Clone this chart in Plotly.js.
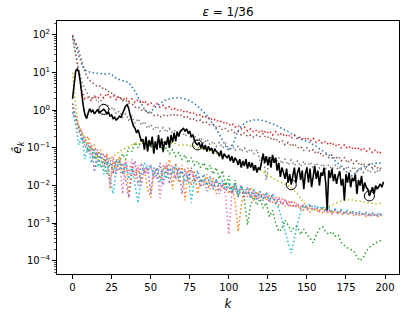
<!DOCTYPE html>
<html>
<head>
<meta charset="utf-8">
<script src="https://cdn.plot.ly/plotly-3.0.1.min.js"></script>
<style>html,body{margin:0;padding:0;background:#fff;}</style>
</head>
<body>
<div id="chart" style="width:405px;height:318px;"></div>
<script>
// ---- data ----
// colored dotted series are sampled at k = 0, 2, 4, ..., 198
const blueVals = [90,55,28,16,11.5,10.5,10,9.8,9.5,9.6, 9.2,9,9.5,8,7,6.5,6.2,5.8,5.4,4.2, 3.2,2.2,1.5,1.05,0.85,0.9,1.1,1.3,1.5,1.7, 1.9,2.0,2.1,2.15,2.15,2.1,2.0,1.85,1.7,1.5, 1.3,1.1,0.9,0.72,0.56,0.42,0.32,0.23,0.16,0.11, 0.085,0.1,0.18,0.28,0.38,0.45,0.5,0.53,0.55,0.56, 0.55,0.53,0.5,0.47,0.44,0.4,0.36,0.33,0.3,0.27, 0.24,0.21,0.19,0.17,0.16,0.15,0.14,0.12,0.11,0.095, 0.085,0.075,0.065,0.055,0.045,0.038,0.032,0.027,0.021,0.017, 0.02,0.024,0.028,0.031,0.034,0.036,0.038,0.039,0.04,0.039];
const orangeVals = [1.2,0.6,0.35,0.25,0.15,0.2,0.09,0.12,0.06,0.09, 0.04,0.07,0.008,0.05,0.025,0.06,0.02,0.05,0.005,0.035, 0.015,0.03,0.012,0.028,0.008,0.0047,0.02,0.03,0.015,0.035, 0.02,0.05,0.008,0.04,0.012,0.035,0.004,0.03,0.01,0.025, 0.006,0.015,0.01,0.02,0.008,0.016,0.006,0.012,0.008,0.012, 0.006,0.01,0.004,0.0006,0.003,0.008,0.005,0.009,0.004,0.007, 0.0045,0.006,0.004,0.0055,0.0035,0.005,0.003,0.0045,0.0028,0.004, 0.0026,0.0035,0.0025,0.003,0.0022,0.0028,0.002,0.0026,0.002,0.0024, 0.0019,0.0023,0.0018,0.0022,0.0018,0.0021,0.0017,0.002,0.0017,0.002, 0.0016,0.0019,0.0016,0.0018,0.0015,0.0018,0.0015,0.0017,0.0015,0.0016];
const greenVals = [1.5,0.7,0.3,0.2,0.12,0.08,0.1,0.05,0.07,0.03, 0.05,0.02,0.04,0.025,0.05,0.04,0.07,0.05,0.1,0.08, 0.14,0.1,0.16,0.11,0.14,0.1,0.13,0.09,0.12,0.08, 0.1,0.07,0.09,0.06,0.075,0.05,0.065,0.04,0.055,0.035, 0.045,0.03,0.04,0.025,0.035,0.02,0.03,0.015,0.025,0.01, 0.018,0.006,0.014,0.005,0.01,0.004,0.0009,0.003,0.005,0.003, 0.0045,0.0025,0.0035,0.0015,0.0022,0.001,0.0006,0.0007,0.0012,0.0009, 0.0006,0.0008,0.0008,0.0005,0.0007,0.0005,0.0004,0.0003,0.0005,0.0007, 0.0008,0.0006,0.0005,0.0006,0.00045,0.0005,0.0003,0.00025,0.00022,0.0002, 0.00018,0.00013,0.0001,0.00012,0.00018,0.00023,0.00026,0.0003,0.00032,0.00036];
const redVals = [100,30,8,3.2,2.0,2.2,1.8,2.4,2.0,2.6, 2.1,2.8,2.2,2.5,1.9,2.3,1.8,2.2,1.7,2.0, 1.6,1.9,1.5,1.8,1.4,1.6,1.3,1.5,1.2,1.35, 1.1,1.25,1.0,1.15,0.95,1.05,0.85,0.95,0.8,0.85, 0.7,0.78,0.62,0.7,0.56,0.62,0.5,0.55,0.45,0.5, 0.4,0.45,0.36,0.4,0.32,0.36,0.28,0.32,0.26,0.3, 0.25,0.3,0.24,0.28,0.22,0.27,0.21,0.25,0.2,0.23, 0.18,0.22,0.17,0.2,0.16,0.19,0.15,0.18,0.14,0.16, 0.13,0.15,0.12,0.14,0.11,0.13,0.1,0.12,0.095,0.11, 0.09,0.105,0.085,0.1,0.08,0.095,0.075,0.09,0.07,0.08];
const purpleVals = [1.5,0.5,0.4,0.15,0.2,0.08,0.12,0.023,0.09,0.05, 0.07,0.035,0.055,0.02,0.045,0.025,0.04,0.015,0.0047,0.02, 0.045,0.01,0.04,0.02,0.035,0.006,0.03,0.015,0.04,0.01, 0.035,0.011,0.03,0.015,0.03,0.006,0.025,0.014,0.03,0.012, 0.018,0.009,0.015,0.007,0.012,0.008,0.014,0.006,0.011,0.007, 0.01,0.006,0.009,0.005,0.008,0.005,0.007,0.0045,0.0065,0.004, 0.006,0.004,0.0055,0.0035,0.005,0.0032,0.0045,0.003,0.004,0.0028, 0.0036,0.0026,0.0032,0.0024,0.003,0.0022,0.0028,0.0021,0.0026,0.002, 0.0025,0.0019,0.0023,0.0018,0.0022,0.0018,0.0021,0.0017,0.002,0.0017, 0.0019,0.0016,0.0019,0.0016,0.0018,0.0015,0.0018,0.0015,0.0017,0.0016];
const brownVals = [95,65,38,20,10,7,5.5,5,4.2,4.5, 3.5,3.6,2.8,2.9,2.2,2.3,1.8,1.9,1.5,1.5, 1.2,1.25,1.0,1.05,0.85,0.9,0.72,0.78,0.65,0.75, 0.68,0.78,0.7,0.8,0.7,0.75,0.62,0.68,0.55,0.6, 0.5,0.55,0.45,0.48,0.4,0.42,0.35,0.38,0.3,0.33, 0.27,0.3,0.25,0.27,0.22,0.25,0.2,0.22,0.19,0.22, 0.2,0.24,0.18,0.2,0.16,0.18,0.14,0.16,0.12,0.14, 0.11,0.13,0.1,0.11,0.085,0.1,0.08,0.09,0.07,0.08, 0.06,0.07,0.055,0.065,0.05,0.06,0.045,0.055,0.04,0.05, 0.038,0.045,0.034,0.04,0.031,0.037,0.029,0.034,0.027,0.03];
const pinkVals = [0.8,0.7,0.25,0.3,0.1,0.15,0.06,0.1,0.04,0.07, 0.03,0.07,0.01,0.06,0.02,0.05,0.006,0.045,0.02,0.05, 0.018,0.035,0.01,0.03,0.02,0.035,0.015,0.03,0.0047,0.025, 0.04,0.02,0.035,0.015,0.03,0.02,0.028,0.012,0.025,0.015, 0.022,0.012,0.02,0.01,0.018,0.009,0.015,0.008,0.013,0.005, 0.0005,0.006,0.011,0.007,0.01,0.006,0.009,0.005,0.008,0.0045, 0.007,0.0045,0.0065,0.004,0.006,0.0035,0.005,0.0032,0.0045,0.003, 0.004,0.0028,0.0035,0.0025,0.0032,0.0024,0.003,0.0022,0.0028,0.0021, 0.0026,0.002,0.0024,0.0019,0.0023,0.0019,0.0022,0.0018,0.0021,0.0018, 0.002,0.0017,0.002,0.0017,0.0019,0.0016,0.0019,0.0016,0.0018,0.0017];
const grayVals = [80,30,12,5.5,3.5,2.5,2.0,2.4,1.6,1.9, 1.3,1.5,1.0,1.2,0.8,0.95,0.65,0.8,0.55,0.7, 0.45,0.6,0.4,0.5,0.33,0.42,0.3,0.38,0.28,0.35, 0.26,0.33,0.25,0.3,0.22,0.28,0.2,0.25,0.18,0.22, 0.15,0.19,0.13,0.17,0.12,0.15,0.11,0.14,0.1,0.13, 0.09,0.12,0.085,0.11,0.08,0.1,0.075,0.095,0.07,0.09, 0.045,0.065,0.014,0.05,0.06,0.04,0.055,0.038,0.05,0.035, 0.048,0.034,0.045,0.032,0.044,0.03,0.042,0.03,0.04,0.029, 0.038,0.028,0.036,0.027,0.035,0.026,0.034,0.025,0.033,0.024, 0.032,0.023,0.03,0.022,0.029,0.022,0.028,0.021,0.027,0.022];
const oliveVals = [10,1.2,0.4,0.25,0.18,0.12,0.09,0.07,0.05,0.045, 0.04,0.045,0.05,0.06,0.07,0.08,0.09,0.1,0.11,0.12, 0.13,0.13,0.13,0.13,0.14,0.14,0.14,0.14,0.14,0.14, 0.13,0.13,0.13,0.13,0.12,0.12,0.12,0.12,0.11,0.11, 0.1,0.1,0.09,0.09,0.08,0.08,0.07,0.07,0.06,0.06, 0.055,0.052,0.05,0.046,0.043,0.04,0.037,0.034,0.031,0.028, 0.026,0.023,0.02,0.018,0.016,0.014,0.013,0.012,0.011,0.01, 0.009,0.0075,0.006,0.0045,0.0035,0.0028,0.0025,0.0023,0.0022,0.0022, 0.0023,0.0025,0.0028,0.003,0.0033,0.0036,0.0039,0.0041,0.0042,0.0042, 0.0041,0.004,0.0039,0.0037,0.0035,0.0034,0.0033,0.0033,0.0033,0.0034];
const cyanVals = [0.9,0.4,0.12,0.2,0.05,0.12,0.04,0.09,0.03,0.07, 0.02,0.05,0.015,0.006,0.03,0.045,0.02,0.04,0.015,0.03, 0.01,0.0034,0.02,0.04,0.025,0.035,0.018,0.03,0.012,0.028, 0.015,0.03,0.02,0.035,0.015,0.025,0.012,0.02,0.0035,0.015, 0.025,0.012,0.02,0.01,0.017,0.008,0.015,0.01,0.014,0.008, 0.012,0.007,0.011,0.006,0.01,0.006,0.009,0.005,0.008,0.005, 0.007,0.0045,0.0065,0.004,0.006,0.0035,0.0025,0.0012,0.0006,0.0003, 0.00016,0.0004,0.001,0.002,0.003,0.0028,0.0032,0.0026,0.003,0.0024, 0.0028,0.0022,0.0026,0.0021,0.0024,0.002,0.0023,0.0019,0.0022,0.0018, 0.0021,0.0018,0.002,0.0017,0.0019,0.0017,0.0018,0.0016,0.0018,0.0017];

// solid black series, k = 0..199
const blackVals = [2.0,6.0,11.0,12.5,10.5,5.5,2.2,1.2,0.75,0.6,
 0.85,1.1,0.9,1.0,0.8,0.95,1.05,0.85,0.9,1.0,
 1.05,0.95,0.8,0.9,0.7,0.75,0.6,0.65,0.55,0.6,
 0.7,0.65,0.8,1.0,1.3,1.4,1.1,0.7,0.5,0.38,
 0.33,0.25,0.3,0.2,0.15,0.17,0.09,0.2,0.08,0.16,
 0.11,0.2,0.07,0.15,0.09,0.22,0.1,0.18,0.08,0.15,
 0.12,0.2,0.1,0.22,0.14,0.25,0.15,0.27,0.2,0.28,
 0.3,0.33,0.28,0.32,0.25,0.27,0.2,0.22,0.16,0.13,
 0.12,0.14,0.1,0.13,0.09,0.12,0.08,0.11,0.085,0.1,
 0.07,0.095,0.08,0.075,0.06,0.085,0.05,0.07,0.06,0.055,
 0.065,0.045,0.06,0.04,0.055,0.047,0.035,0.05,0.03,0.045,
 0.033,0.05,0.028,0.042,0.03,0.04,0.025,0.035,0.022,0.03,
 0.026,0.05,0.07,0.04,0.06,0.035,0.058,0.03,0.065,0.04,
 0.055,0.025,0.04,0.017,0.03,0.022,0.015,0.028,0.012,0.02,
 0.0105,0.018,0.03,0.012,0.022,0.03,0.014,0.025,0.008,0.02,
 0.03,0.012,0.028,0.009,0.02,0.033,0.015,0.025,0.01,0.022,
 0.018,0.03,0.012,0.0022,0.025,0.016,0.028,0.013,0.02,0.011,
 0.018,0.024,0.01,0.015,0.004,0.02,0.012,0.022,0.009,0.016,
 0.013,0.02,0.006,0.014,0.01,0.018,0.007,0.012,0.009,0.008,
 0.0053,0.007,0.009,0.006,0.01,0.008,0.0095,0.011,0.009,0.0125];

// k positions of the open circles on the black curve
const circleK = [20, 80, 140, 190];

const xTickVals = [0,25,50,75,100,125,150,175,200];
const yTickVals = [1e-4,1e-3,1e-2,1e-1,1e0,1e1,1e2];
const yTickText = ['10<sup>−4</sup>','10<sup>−3</sup>','10<sup>−2</sup>','10<sup>−1</sup>','10<sup>0</sup>','10<sup>1</sup>','10<sup>2</sup>'];

// ---- build traces ----
const kEven = blueVals.map((_, i) => 2 * i);
const kAll = blackVals.map((_, i) => i);

const series = [
  [blueVals, '#1f77b4'], [orangeVals, '#ff7f0e'], [greenVals, '#2ca02c'],
  [redVals, '#d62728'], [purpleVals, '#9467bd'], [brownVals, '#8c564b'],
  [pinkVals, '#e377c2'], [grayVals, '#7f7f7f'], [oliveVals, '#bcbd22'],
  [cyanVals, '#17becf']
];

const traces = series.map(([vals, col]) => ({
  x: kEven, y: vals, type: 'scatter', mode: 'lines',
  line: {color: col, width: 1.5, dash: '1.5px,2.5px'},
  hoverinfo: 'skip'
}));

traces.push({
  x: kAll, y: blackVals, type: 'scatter', mode: 'lines',
  line: {color: '#000', width: 1.6}, hoverinfo: 'skip'
});

traces.push({
  x: circleK, y: circleK.map(k => blackVals[k]), type: 'scatter', mode: 'markers',
  marker: {symbol: 'circle-open', size: 10, color: '#000', line: {width: 1, color: '#000'}},
  hoverinfo: 'skip'
});

const minorVals = [];
for (let e = -5; e <= 2; e++) for (let m = 2; m <= 9; m++) minorVals.push(m * Math.pow(10, e));

const layout = {
  width: 405, height: 318,
  margin: {l: 57, r: 6, t: 21, b: 44},
  paper_bgcolor: '#fff', plot_bgcolor: '#fff',
  showlegend: false,
  font: {family: 'DejaVu Sans', size: 10, color: '#000'},
  title: {text: '<i>ε</i> = 1/36', font: {size: 12, family: 'DejaVu Sans'}, xref: 'paper', x: 0.5, xanchor: 'center', yref: 'container', y: 0.962, yanchor: 'middle'},
  xaxis: {
    range: [-9.95, 208.95], tickvals: xTickVals, ticks: 'outside', ticklen: 4, tickwidth: 1, tickcolor: '#000',
    showline: true, mirror: true, linecolor: '#000', linewidth: 1, showgrid: false, zeroline: false,
    title: {text: '<i>k</i>', font: {size: 12}, standoff: 7}
  },
  yaxis: {
    type: 'log', range: [-4.35, 2.37], tickvals: yTickVals, ticktext: yTickText,
    ticks: 'outside', ticklen: 4, tickwidth: 1, tickcolor: '#000',
    minor: {tickvals: minorVals, ticks: 'outside', ticklen: 2, tickwidth: 0.7, tickcolor: '#000', showgrid: false},
    showline: true, mirror: true, linecolor: '#000', linewidth: 1, showgrid: false, zeroline: false,
    title: {text: '<i>ê</i><sub><i>k</i></sub>', font: {size: 12}, standoff: 2}
  }
};

Plotly.newPlot('chart', traces, layout, {staticPlot: true, displayModeBar: false});
</script>
</body>
</html>
